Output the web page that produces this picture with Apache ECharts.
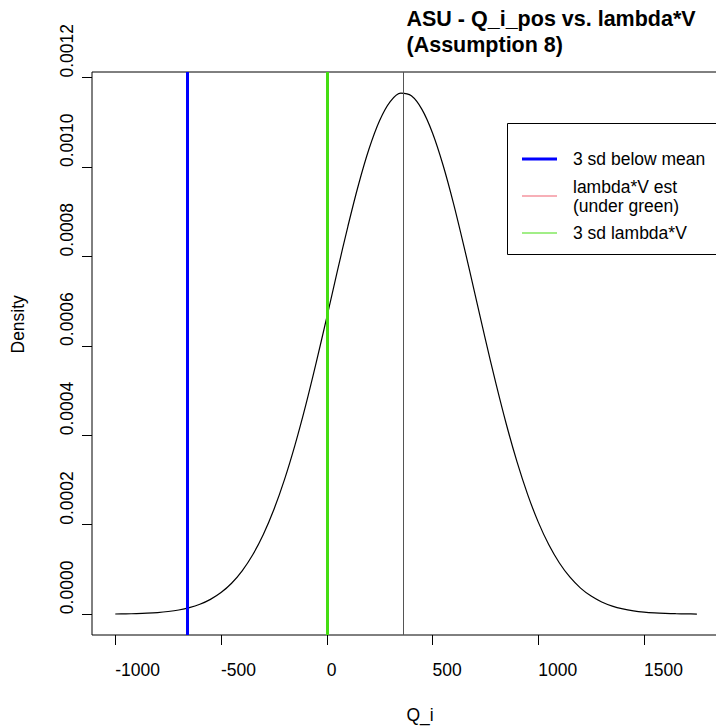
<!DOCTYPE html>
<html>
<head>
<meta charset="utf-8">
<script src="https://cdn.jsdelivr.net/npm/echarts@6/dist/echarts.min.js"></script>
<style>html,body{margin:0;padding:0;background:#fff;overflow:hidden;width:716px;height:728px}#c{width:716px;height:728px;overflow:hidden}</style>
</head>
<body>
<div id="c"></div>
<script>
// Density curve (Q_i vs density)
var qValues = [-1000,-950,-900,-850,-800,-750,-700,-650,-600,-550,-500,-450,-400,-350,-300,-250,-200,-150,-100,-50,
  0,50,100,150,200,250,300,350,400,450,500,550,600,650,700,750,800,850,900,950,1000,1050,1100,1150,1200,1250,1300,
  1350,1400,1450,1500,1550,1600,1650,1700,1750];
var densityValues = [0.0000004,0.0000007,0.0000013,0.0000022,0.0000036,0.0000059,0.0000093,0.0000145,0.0000221,0.0000331,
  0.0000483,0.0000691,0.0000968,0.0001328,0.0001782,0.0002339,0.0003008,0.0003786,0.0004663,0.0005625,
  0.0006638,0.0007670,0.0008675,0.0009604,0.0010408,0.0011041,0.0011464,0.0011652,0.0011592,0.0011289,
  0.0010761,0.0010040,0.0009172,0.0008199,0.0007176,0.0006147,0.0005154,0.0004230,0.0003399,0.0002674,
  0.0002058,0.0001551,0.0001144,0.0000826,0.0000583,0.0000404,0.0000273,0.0000181,0.0000118,0.0000075,
  0.0000046,0.0000028,0.0000017,0.0000010,0.0000006,0.0000003];
// vertical reference lines
var threeSdBelowMean = -661;
var lambdaVEst = 0;
var threeSdLambdaV = 0;
var meanValue = 363;
// tick labels
var xTicks = [-1000,-500,0,500,1000,1500];
var yTicks = [0,0.0002,0.0004,0.0006,0.0008,0.0010,0.0012];
var legendNames = ['3 sd below mean','lambda*V est\n(under green)','3 sd lambda*V'];

var FONT = 'Liberation Sans, Arial, Helvetica, sans-serif';
var curve = qValues.map(function(q,i){return [q, densityValues[i]];});

var chart = echarts.init(document.getElementById('c'), null, {renderer:'svg', width:716, height:728});
chart.setOption({
  animation:false,
  backgroundColor:'#fff',
  title:{
    text:'ASU - Q_i_pos vs. lambda*V\n(Assumption 8)',
    left:406.5, top:6.5, padding:0,
    textStyle:{fontFamily:FONT, fontSize:21.5, fontWeight:'bold', lineHeight:25.5, color:'#000'}
  },
  graphic:[
    {type:'rect', left:507, top:123, z:10, silent:true,
      shape:{x:0, y:0, width:260, height:131},
      style:{fill:'#fff', stroke:'#000', lineWidth:1}}
  ],
  grid:{left:92, top:72, width:629, height:563, show:true, borderColor:'#000', borderWidth:1,
    backgroundColor:'transparent', outerBoundsMode:'none', containLabel:false},
  xAxis:{
    type:'value', min:-1110, max:1864,
    name:'Q_i', nameLocation:'middle', nameGap:70.5,
    nameTextStyle:{fontFamily:FONT, fontSize:17.5, color:'#000', align:'left'},
    axisLine:{show:false, onZero:false},
    axisTick:{show:true, inside:false, customValues:xTicks, length:10, lineStyle:{color:'#000', width:1}},
    axisLabel:{show:true, customValues:xTicks, margin:26, align:'left', fontFamily:FONT, fontSize:17.5, color:'#000',
      formatter:function(v){return String(v);}},
    splitLine:{show:false}
  },
  yAxis:{
    type:'value', min:-0.0000466, max:0.0012125,
    name:'Density', nameLocation:'middle', nameGap:65, nameRotate:90,
    nameTextStyle:{fontFamily:FONT, fontSize:17.5, color:'#000', align:'left'},
    axisLine:{show:false, onZero:false},
    axisTick:{show:true, inside:false, customValues:yTicks, length:10, lineStyle:{color:'#000', width:1}},
    axisLabel:{show:true, customValues:yTicks, rotate:90, align:'left', margin:16, fontFamily:FONT, fontSize:17.5, color:'#000',
      formatter:function(v){return v.toFixed(4);}},
    splitLine:{show:false}
  },
  legend:{
    orient:'vertical', left:507, top:123, z:11,
    padding:[23.5, 20, 8.5, 15], itemGap:2.5, itemWidth:35, itemHeight:3,
    borderWidth:0, selectedMode:false,
    textStyle:{fontFamily:FONT, fontSize:17.5, lineHeight:19, color:'#000', padding:[6,0,0,11]},
    data:[
      {name:legendNames[0], icon:'rect'},
      {name:legendNames[1], icon:'path://M0,0H35V1H0Z'},
      {name:legendNames[2], icon:'path://M0,0H35V1H0Z'}
    ]
  },
  series:[
    {name:'curve', type:'line', data:curve, showSymbol:false, smooth:0.3, z:3,
      lineStyle:{color:'#000', width:1.2}, itemStyle:{color:'#000'}},
    {name:'mean', type:'line', data:[], z:2, itemStyle:{color:'#555'},
      markLine:{silent:true, symbol:'none', label:{show:false}, animation:false,
        lineStyle:{color:'#555', width:1, type:'solid'}, data:[{xAxis:meanValue}]}},
    {name:legendNames[0], type:'line', data:[], z:4, itemStyle:{color:'#0000ff'}, lineStyle:{color:'#0000ff'},
      markLine:{silent:true, symbol:'none', label:{show:false}, animation:false,
        lineStyle:{color:'#0000ff', width:3, type:'solid'}, data:[{xAxis:threeSdBelowMean}]}},
    {name:legendNames[1], type:'line', data:[], z:4, itemStyle:{color:'#F06070'}, lineStyle:{color:'#F06070'},
      markLine:{silent:true, symbol:'none', label:{show:false}, animation:false,
        lineStyle:{color:'#F06070', width:1, type:'solid'}, data:[{xAxis:lambdaVEst}]}},
    {name:legendNames[2], type:'line', data:[], z:5, itemStyle:{color:'#44dd11'}, lineStyle:{color:'#44dd11'},
      markLine:{silent:true, symbol:'none', label:{show:false}, animation:false,
        lineStyle:{color:'#44dd11', width:3, type:'solid'}, data:[{xAxis:threeSdLambdaV}]}}
  ]
});
</script>
</body>
</html>
